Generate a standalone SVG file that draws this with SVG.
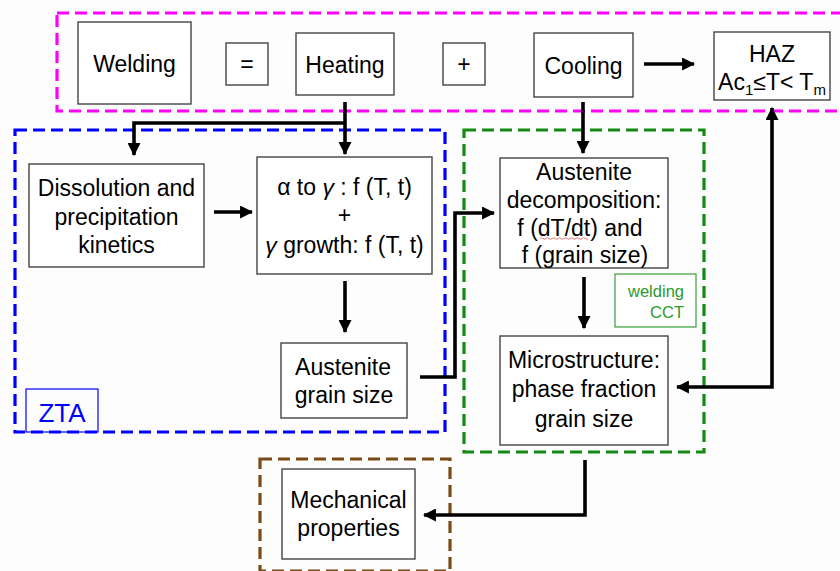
<svg xmlns="http://www.w3.org/2000/svg" width="840" height="571" viewBox="0 0 840 571">
<style>
.bg{fill:#fdfdfd}
.box{fill:#ffffff;stroke:#444;stroke-width:1.4}
.t{font-family:"Liberation Sans",Arial,sans-serif;font-size:23px;fill:#000;text-anchor:middle}
.s{font-size:23px}
.grp{fill:none;stroke-width:3.2;stroke-dasharray:12 6}
.conn{fill:none;stroke:#000;stroke-width:3.6;stroke-linejoin:miter}
</style>
<defs>
<marker id="ah" viewBox="0 0 12 12" refX="11" refY="6" markerWidth="13" markerHeight="13" markerUnits="userSpaceOnUse" orient="auto-start-reverse">
<path d="M0,0 L12,6 L0,12 z" fill="#000"/>
</marker>
</defs>
<rect class="bg" x="0" y="0" width="840" height="571"/>

<g id="groups">
<rect class="grp" x="57" y="13" width="800" height="98" stroke="#ff00ff"/>
<rect class="grp" x="15" y="130" width="430" height="302" stroke="#0000ff"/>
<rect class="grp" x="464" y="130" width="240" height="322" stroke="#138a13"/>
<rect class="grp" x="260" y="459" width="190" height="112" stroke="#7a4a14"/>
</g>

<g id="connectors">
<path class="conn" d="M345,102 V154" marker-end="url(#ah)"/>
<path class="conn" d="M345,123 H134 V155" marker-end="url(#ah)"/>
<path class="conn" d="M214,212 H252" marker-end="url(#ah)"/>
<path class="conn" d="M345,281 V332" marker-end="url(#ah)"/>
<path class="conn" d="M420,377 H455 V213 H494" marker-end="url(#ah)"/>
<path class="conn" d="M583,102 V153" marker-end="url(#ah)"/>
<path class="conn" d="M584,277 V328" marker-end="url(#ah)"/>
<path class="conn" d="M772,108 V387 H677" marker-start="url(#ah)" marker-end="url(#ah)"/>
<path class="conn" d="M585,460 V515 H424" marker-end="url(#ah)"/>
<path class="conn" d="M644,64 H694" marker-end="url(#ah)"/>
</g>

<g id="welding">
<rect class="box" x="78" y="22" width="113" height="82"/>
<text class="t" x="134.5" y="72">Welding</text>
</g>
<g id="equals">
<rect class="box" x="226" y="43" width="42" height="42"/>
<text class="t s" x="247" y="72">=</text>
</g>
<g id="heating">
<rect class="box" x="296" y="33" width="98" height="62"/>
<text class="t" x="345" y="73">Heating</text>
</g>
<g id="plus">
<rect class="box" x="443" y="43" width="42" height="42"/>
<text class="t s" x="464" y="72">+</text>
</g>
<g id="cooling">
<rect class="box" x="534" y="33" width="99" height="64"/>
<text class="t" x="583.5" y="74">Cooling</text>
</g>
<g id="haz">
<rect class="box" x="714" y="32" width="116" height="68"/>
<text class="t" x="772" y="62">HAZ</text>
<text class="t" x="772" y="90">Ac<tspan font-size="15" dy="5">1</tspan><tspan dy="-5">≤T&lt; T</tspan><tspan font-size="15" dy="5">m</tspan></text>
</g>
<g id="dissolution">
<rect class="box" x="29" y="164" width="175" height="103"/>
<text class="t" x="116.5" y="196">Dissolution and</text>
<text class="t" x="116.5" y="225">precipitation</text>
<text class="t" x="116.5" y="253">kinetics</text>
</g>
<g id="alpha-gamma">
<rect class="box" x="257" y="157" width="175" height="117"/>
<text class="t" x="344.5" y="195">α to <tspan font-style="italic">γ</tspan> : f (T, t)</text>
<text class="t" x="344.5" y="223">+</text>
<text class="t" x="344.5" y="253"><tspan font-style="italic">γ</tspan> growth: f (T, t)</text>
</g>
<g id="grain-size">
<rect class="box" x="281" y="343" width="126" height="75"/>
<text class="t" x="343" y="375">Austenite</text>
<text class="t" x="344" y="403">grain size</text>
</g>
<g id="zta">
<rect x="26" y="389" width="72" height="43" fill="none" stroke="#0000ff" stroke-width="1.2"/>
<text class="t" x="62" y="422" style="fill:#0000ff;font-size:26px">ZTA</text>
</g>
<g id="decomposition">
<rect class="box" x="500" y="158" width="168" height="110"/>
<text class="t" x="584" y="180">Austenite</text>
<text class="t" x="584" y="208">decomposition:</text>
<text class="t" x="580" y="236">f (dT/dt) and</text>
<text class="t" x="585" y="263">f (grain size)</text>
<path d="M540,238.5 q1.5,-1.5 3,0 t3,0 t3,0 t3,0 t3,0 t3,0 t3,0 t3,0 t3,0 t3,0 t3,0 t3,0 t3,0 t3,0 t3,0 t3,0" fill="none" stroke="#e05050" stroke-width="0.8"/>
</g>
<g id="welding-cct">
<rect x="615" y="274" width="81" height="53" fill="#fff" stroke="#3aa03a" stroke-width="1.2"/>
<text x="684" y="297" font-family="Liberation Sans, Arial, sans-serif" font-size="16.5" fill="#2a9a2a" text-anchor="end">welding</text>
<text x="684" y="318" font-family="Liberation Sans, Arial, sans-serif" font-size="16.5" fill="#2a9a2a" text-anchor="end">CCT</text>
</g>
<g id="microstructure">
<rect class="box" x="500" y="336" width="168" height="109"/>
<text class="t" x="584" y="368">Microstructure:</text>
<text class="t" x="584" y="397">phase fraction</text>
<text class="t" x="584" y="427">grain size</text>
</g>
<g id="mechanical">
<rect class="box" x="282" y="469" width="133" height="90"/>
<text class="t" x="348.5" y="508">Mechanical</text>
<text class="t" x="348.5" y="536">properties</text>
</g>
</svg>
